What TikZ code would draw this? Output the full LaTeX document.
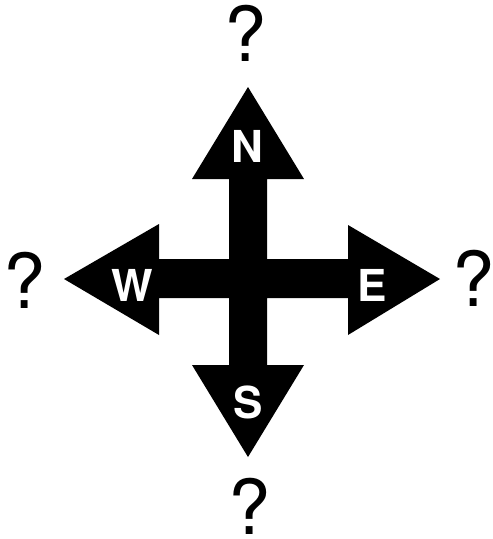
\documentclass[tikz,border=0pt]{standalone}
\usepackage{fontspec}
\setmainfont{TeX Gyre Heros}
\begin{document}
\begin{tikzpicture}[x=1pt,y=-1pt,
  dirlabel/.style={text=white,font=\fontsize{44}{46}\selectfont\bfseries,inner sep=0pt},
  qmark/.style={text=black,font=\fontsize{76}{80}\selectfont,inner sep=0pt}]
\useasboundingbox (0,0) rectangle (493,539);
\fill[black] (248,87) -- (304,179) -- (267,179) -- (267,259) -- (348,259) -- (348,225)
  -- (440,279) -- (348,335) -- (348,298) -- (267,298) -- (267,365) -- (304,365)
  -- (248,457) -- (192,365) -- (229,365) -- (229,298) -- (159,298) -- (159,335)
  -- (64,279) -- (159,224) -- (159,259) -- (229,259) -- (229,179) -- (192,179) -- cycle;
\node[dirlabel] (n) at (247,146) {N};
\node[dirlabel] (s) at (248,402) {S};
\node[dirlabel] (w) at (132,285) {W};
\node[dirlabel] (e) at (372,285) {E};
\node[qmark] (qn) at (246,33) {?};
\node[qmark] (qs) at (250,506) {?};
\node[qmark] (qw) at (25,280) {?};
\node[qmark] (qe) at (474,278) {?};
\end{tikzpicture}
\end{document}
